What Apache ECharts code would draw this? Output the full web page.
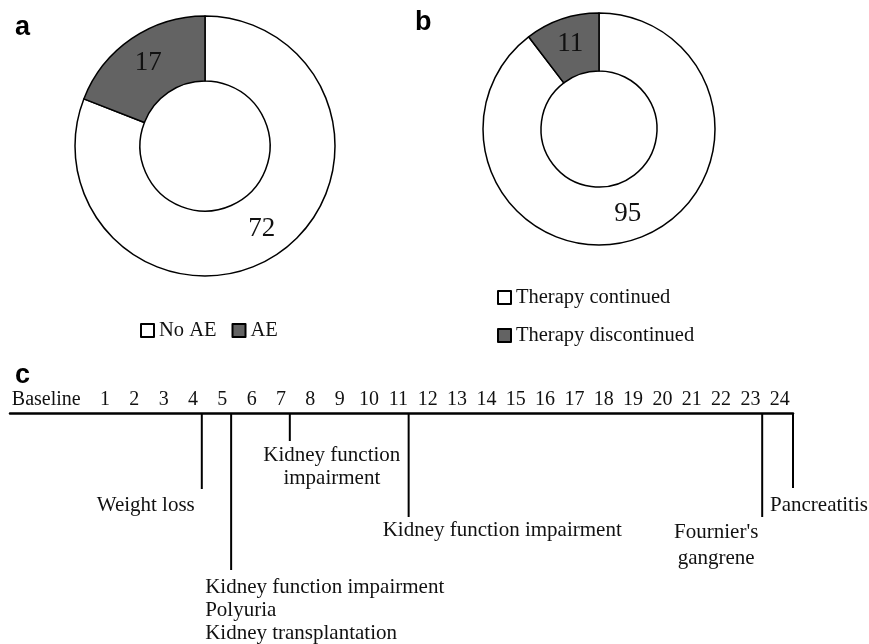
<!DOCTYPE html>
<html>
<head>
<meta charset="utf-8">
<script src="https://cdn.jsdelivr.net/npm/echarts@6/dist/echarts.min.js"></script>
<style>html,body{margin:0;padding:0;background:#fff}#chart{width:869px;height:644px}</style>
</head>
<body>
<div id="chart"></div>
<script>
// ---- data ----
const aCategories = ['No AE', 'AE'];
const aValues = [72, 17];
const bCategories = ['Therapy continued', 'Therapy discontinued'];
const bValues = [95, 11];
const tickLabels = ['Baseline','1','2','3','4','5','6','7','8','9','10','11','12','13','14','15','16','17','18','19','20','21','22','23','24'];
const tickPositions = [-1,1,2,3,4,5,6,7,8,9,10,11,12,13,14,15,16,17,18,19,20,21,22,23,24];
const eventMonths = [4.3, 5.3, 7.3, 11.35, 23.4, 24.45];
const eventDepths = [76, 157, 28, 104, 104, 75];
const eventLabels = [
  'Weight loss',
  'Kidney function impairment\nPolyuria\nKidney transplantation',
  'Kidney function\nimpairment',
  'Kidney function impairment',
  "Fournier's\ngangrene",
  'Pancreatitis'
];

// ---- styles ----
const SERIF = '"Liberation Serif", "DejaVu Serif", serif';
const GREY = '#636363';
const labelStyle = [
  {dx: -7, dy: 16, align: 'right', lh: 23},
  {dx: -26, dy: 17, align: 'left', lh: 23},
  {dx: 42, dy: 14, align: 'center', lh: 23},
  {dx: -26, dy: 13, align: 'left', lh: 23},
  {dx: -46, dy: 15, align: 'center', lh: 26},
  {dx: -23, dy: 17, align: 'left', lh: 23}
];

const chart = echarts.init(document.getElementById('chart'), null, {renderer: 'canvas'});

function pieData(names, values) {
  return names.map((n, i) => ({
    name: n, value: values[i],
    itemStyle: {color: i === 0 ? '#ffffff' : GREY}
  }));
}

const pieCommon = {
  type: 'pie',
  startAngle: 90,
  clockwise: true,
  avoidLabelOverlap: false,
  label: {show: true, position: 'inside', formatter: '{c}', fontFamily: SERIF, fontSize: 27, color: '#111'},
  labelLine: {show: false},
  itemStyle: {borderColor: '#000', borderWidth: 1.5},
  emphasis: {disabled: true},
  silent: true
};

const legendText = {fontFamily: SERIF, fontSize: 20.5, color: '#111'};

chart.setOption({
  animation: false,
  graphic: [
    {type: 'text', left: 15, top: 14, style: {text: 'a', font: 'bold 27px "Liberation Sans", Arial, sans-serif', fill: '#000'}},
    {type: 'text', left: 415, top: 9, style: {text: 'b', font: 'bold 27px "Liberation Sans", Arial, sans-serif', fill: '#000'}},
    {type: 'text', left: 15, top: 362, style: {text: 'c', font: 'bold 27px "Liberation Sans", Arial, sans-serif', fill: '#000'}}
  ],
  legend: [
    {
      data: aCategories, left: 140, top: 320, orient: 'horizontal', itemGap: 15,
      itemWidth: 13, itemHeight: 13, icon: 'rect', padding: 0, selectedMode: false,
      textStyle: legendText
    },
    {
      data: bCategories, left: 497, top: 287, orient: 'vertical', itemGap: 17,
      itemWidth: 13, itemHeight: 13, icon: 'rect', padding: 0, selectedMode: false,
      textStyle: legendText
    }
  ],
  grid: {left: 10, right: 76, top: 413, height: 231, containLabel: false},
  xAxis: {
    type: 'value', position: 'top', min: -2.237, max: 24.45,
    splitLine: {show: false},
    axisTick: {show: false},
    axisLine: {show: true, onZero: false, lineStyle: {color: '#000', width: 2.5}},
    axisLabel: {
      customValues: tickPositions,
      formatter: v => tickLabels[tickPositions.indexOf(v)] ?? '',
      margin: 3, fontFamily: SERIF, fontSize: 20, color: '#111'
    }
  },
  yAxis: {type: 'value', inverse: true, min: 0, max: 231, show: false},
  series: [
    Object.assign({}, pieCommon, {name: 'a', center: [205, 146], radius: [65, 130], data: pieData(aCategories, aValues)}),
    Object.assign({}, pieCommon, {name: 'b', center: [599, 129], radius: [58, 116], data: pieData(bCategories, bValues)}),
    {
      type: 'custom',
      silent: true,
      clip: false,
      data: eventMonths.map((m, i) => [m, eventDepths[i]]),
      renderItem: function (params, api) {
        const i = params.dataIndex;
        const top = api.coord([api.value(0), 0]);
        const end = api.coord([api.value(0), api.value(1)]);
        const s = labelStyle[i];
        return {
          type: 'group',
          children: [
            {type: 'line', shape: {x1: top[0], y1: top[1], x2: end[0], y2: end[1]},
             style: {stroke: '#000', lineWidth: 2}},
            {type: 'text', x: end[0] + s.dx, y: end[1] + s.dy - s.lh / 2,
             style: {text: eventLabels[i], fontFamily: SERIF, fontSize: 21, fill: '#111',
                     align: s.align, verticalAlign: 'top', lineHeight: s.lh}}
          ]
        };
      }
    }
  ]
});
</script>
</body>
</html>
